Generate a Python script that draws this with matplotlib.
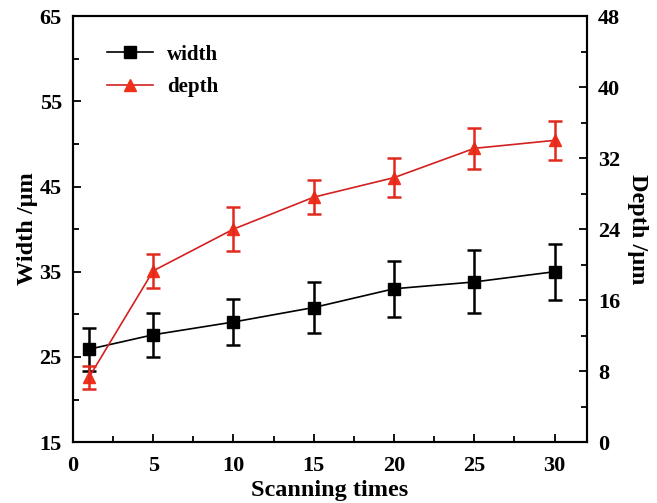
import matplotlib
matplotlib.use("Agg")
import matplotlib.pyplot as plt
from matplotlib.ticker import MultipleLocator, FixedLocator

plt.rcParams['font.family'] = ['Liberation Serif', 'DejaVu Serif']
plt.rcParams['font.weight'] = 'bold'

scans = [1, 5, 10, 15, 20, 25, 30]
width = [25.9, 27.6, 29.1, 30.8, 33.0, 33.8, 35.0]
width_err = [2.5, 2.6, 2.7, 3.0, 3.3, 3.7, 3.3]
depth = [7.3, 19.3, 24.0, 27.6, 29.8, 33.1, 34.0]
depth_err = [1.3, 1.9, 2.5, 1.9, 2.2, 2.3, 2.2]
width_ticks = [15, 25, 35, 45, 55, 65]
depth_ticks = [0, 8, 16, 24, 32, 40, 48]

fig = plt.figure(figsize=(6.57, 5.03), dpi=100)
ax = fig.add_axes([0.111, 0.121, 0.782, 0.847])
ax2 = ax.twinx()

lw, = ax.plot(scans, width, color='black', lw=1.2, marker='s', ms=9, label='width')
ax.errorbar(scans, width, yerr=width_err, fmt='none', ecolor='black', elinewidth=1.8, capsize=5, capthick=1.8)
ld, = ax2.plot(scans, depth, color='#d42020', lw=1.2, marker='^', ms=9, mfc='#f0301a', mec='#f0301a', label='depth')
ax2.errorbar(scans, depth, yerr=depth_err, fmt='none', ecolor='#e02a1e', elinewidth=1.8, capsize=5, capthick=1.8)

ax.set_xlim(0, 32)
ax.set_ylim(15, 65)
ax2.set_ylim(0, 48)
ax.xaxis.set_major_locator(MultipleLocator(5))
ax.xaxis.set_minor_locator(MultipleLocator(2.5))
ax.yaxis.set_major_locator(FixedLocator(width_ticks))
ax.yaxis.set_minor_locator(FixedLocator([20, 30, 40, 50, 60]))
ax2.yaxis.set_major_locator(FixedLocator(depth_ticks))
ax2.yaxis.set_minor_locator(MultipleLocator(4))

for a in (ax, ax2):
    for s in a.spines.values():
        s.set_linewidth(1.5)
    a.tick_params(which='both', direction='in', width=1.3, labelsize=16)
    a.tick_params(which='major', length=6, pad=8)
    a.tick_params(which='minor', length=4)
ax.tick_params(axis='x', which='major', pad=10)
ax.tick_params(which='both', top=False, right=False)
ax2.tick_params(which='both', left=False, top=False)

ax.set_xlabel('Scanning times', fontsize=17.5, fontweight='bold', labelpad=3)
ax.set_ylabel('Width /μm', fontsize=17.5, fontweight='bold', labelpad=1)
ax2.set_ylabel('Depth /μm', fontsize=17.5, fontweight='bold', rotation=270, labelpad=20)

leg = ax.legend(handles=[lw, ld], loc='upper left', bbox_to_anchor=(0.066, 0.933), frameon=False,
                fontsize=15, handlelength=2.2, handletextpad=0.7, labelspacing=0.6,
                borderpad=0, borderaxespad=0)
for t in leg.get_texts():
    t.set_fontweight('bold')

fig.savefig('out.png', dpi=100)
